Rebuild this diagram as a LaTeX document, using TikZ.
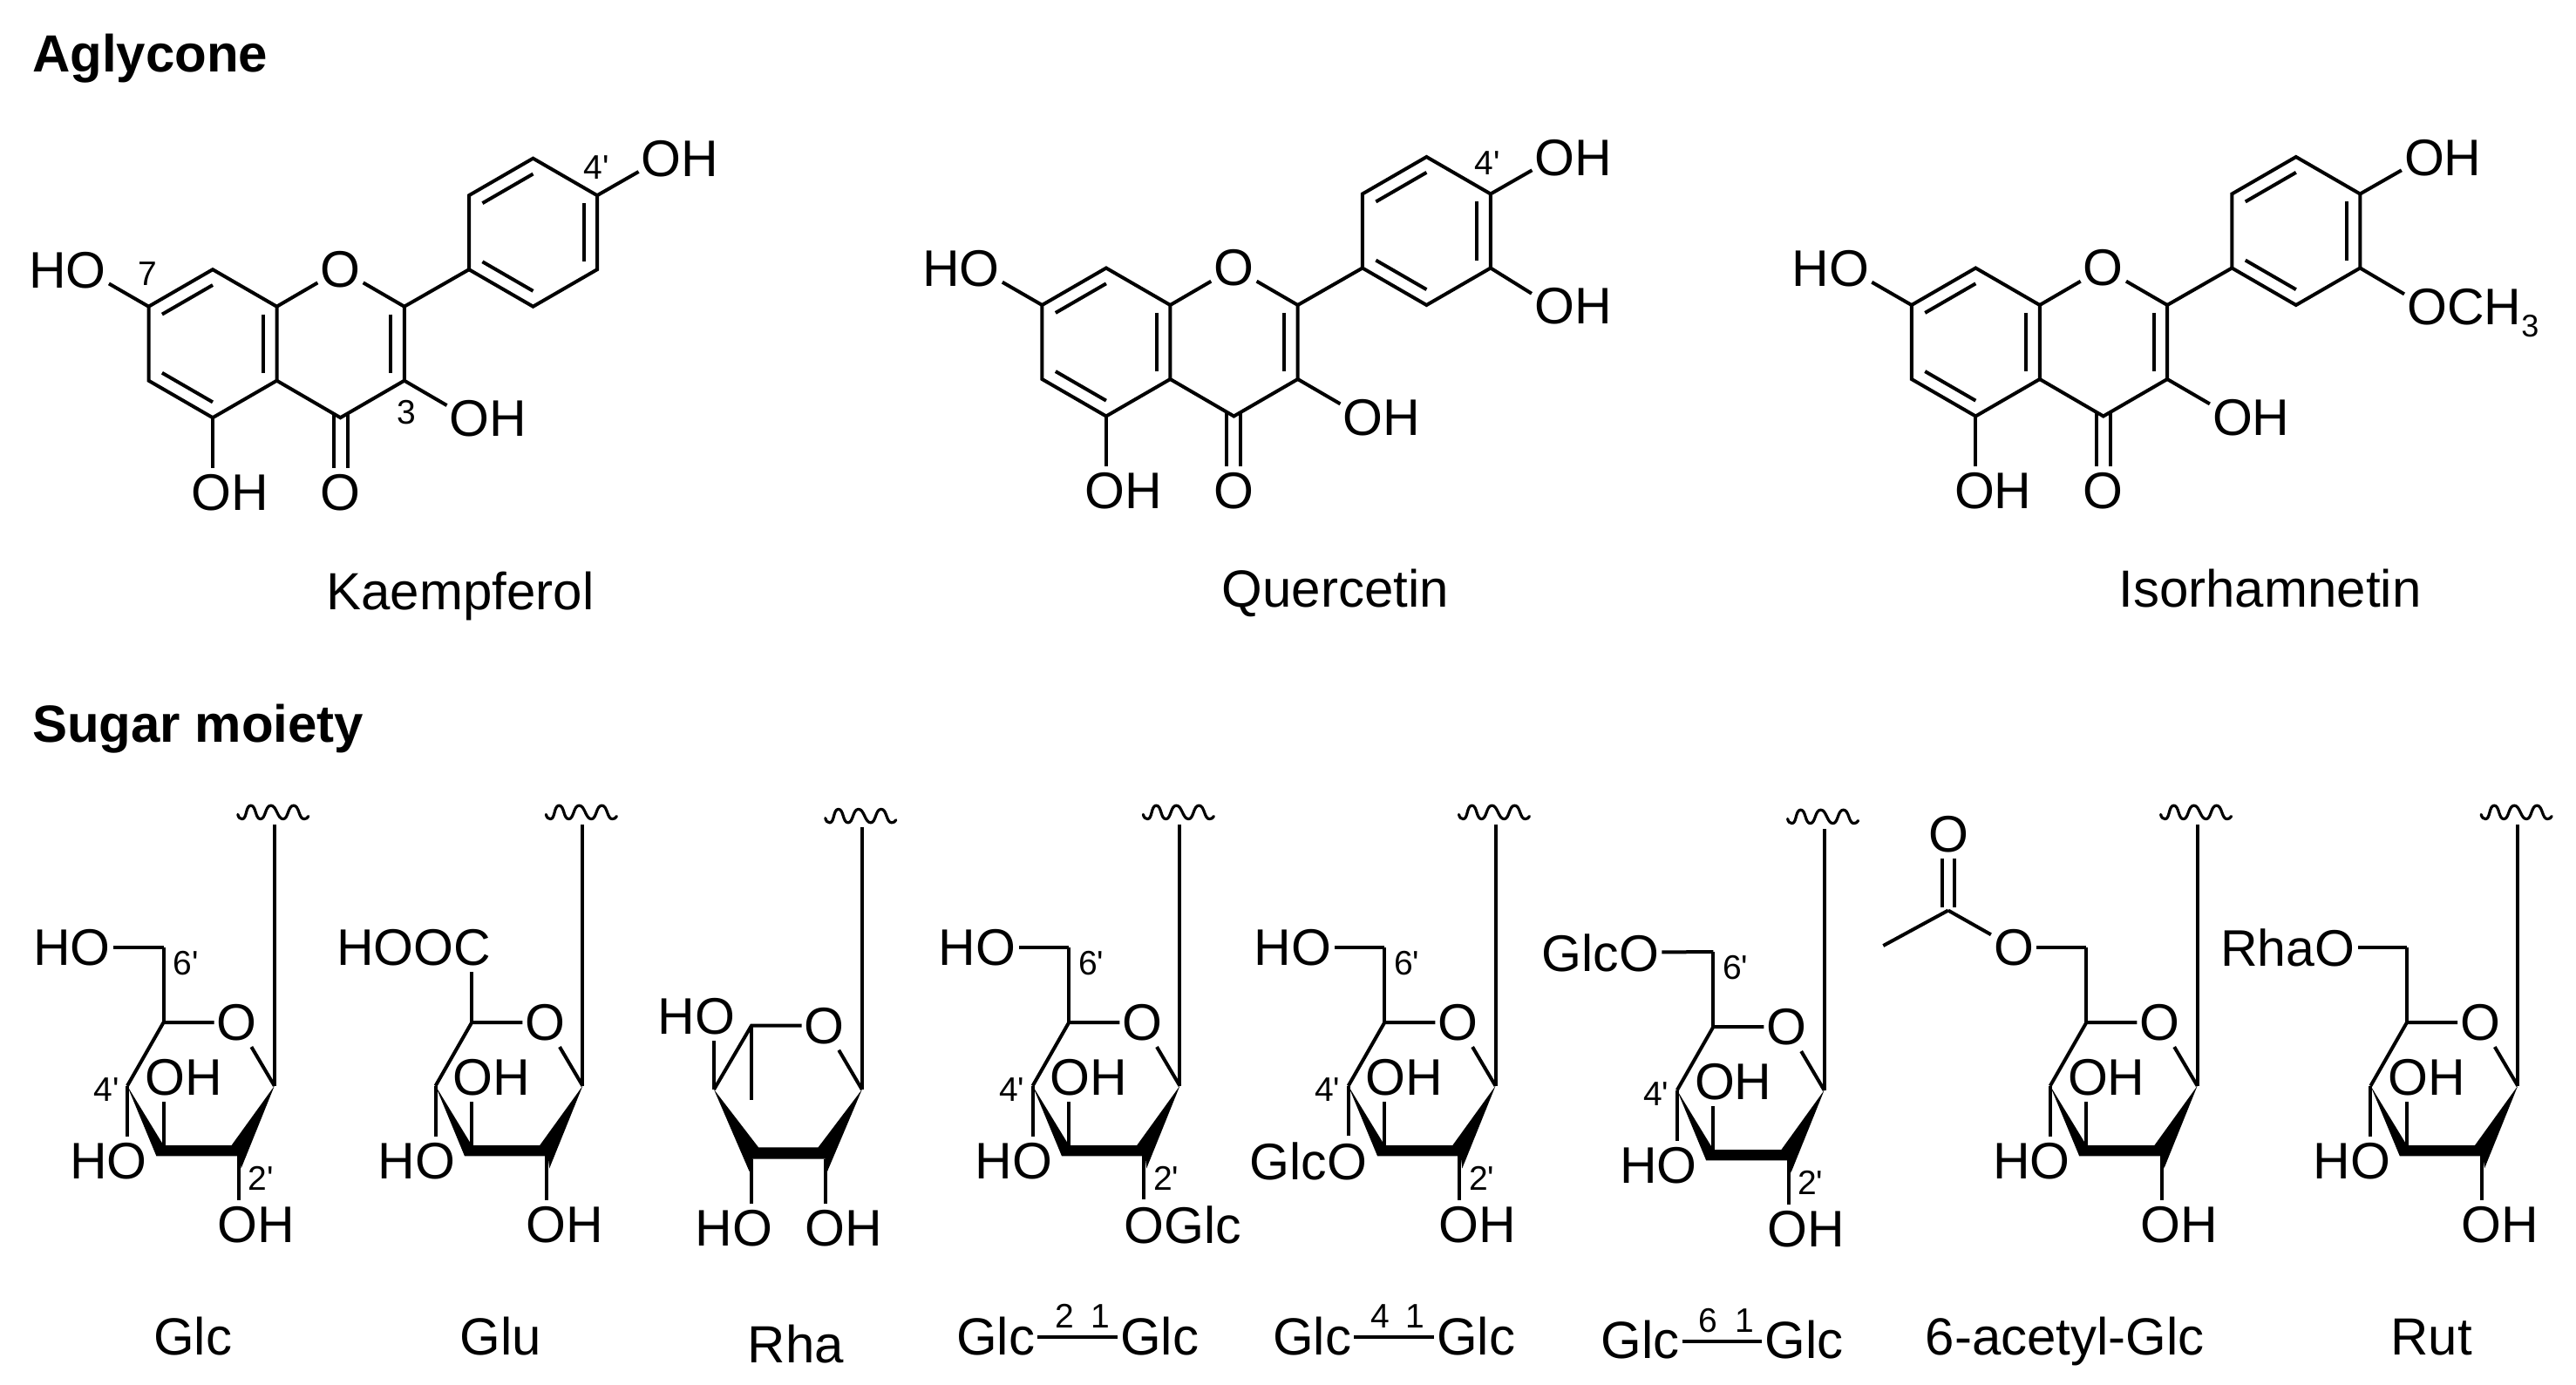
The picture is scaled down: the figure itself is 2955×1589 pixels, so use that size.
\documentclass[tikz,border=0pt]{standalone}
\usepackage{fontspec}
\setmainfont{Liberation Sans}
\usetikzlibrary{calc}
\newcommand\prm{\textquotesingle}
\tikzset{
  bond/.style={draw=black,line width=4pt,line join=miter,line cap=butt},
  atom/.style={font=\fontsize{59}{60}\selectfont,inner xsep=3pt,inner ysep=7pt,text=black},
  captext/.style={font=\fontsize{60}{62}\selectfont,inner sep=0pt,anchor=base,text=black},
  ttl/.style={font=\fontsize{60}{62}\selectfont\bfseries,inner sep=0pt,anchor=base west,text=black},
  num/.style={font=\fontsize{39}{40}\selectfont,inner sep=0pt,text=black},
  linktext/.style={font=\fontsize{60}{62}\selectfont,inner xsep=3pt,inner ysep=0pt,anchor=base,text=black},
  wavy/.style={draw=black,line width=3.2pt,line cap=round,line join=round},
  wedgefill/.style={fill=black,draw=none}
}
% the wavy bond mark, in the first Glc frame
\newcommand\wavemark{%
  \draw[wavy] (272.8,934.4) .. controls (273.5,938) and (275.5,939.6) .. (277.8,939.6)
    .. controls (283.5,939.6) and (281.5,924.2) .. (287.8,924.2)
    .. controls (294,924.2) and (292.5,939.6) .. (298.8,939.6)
    .. controls (305,939.6) and (304,924.2) .. (310.8,924.2)
    .. controls (317.5,924.2) and (318,939.6) .. (324.8,939.6)
    .. controls (331,939.6) and (330,924.2) .. (336.8,924.2)
    .. controls (343.5,924.2) and (342.5,939.6) .. (348.8,939.6)
    .. controls (351,939.6) and (353,938.5) .. (353.8,936.5);
}
% flavonol skeleton, in the Kaempferol frame
\newcommand\flavcore{%
  \coordinate (C7) at (170.5,351.7);
  \coordinate (C8) at (244,309.2);
  \coordinate (C8a) at (317.5,351.7);
  \node[atom] (O1) at (390.5,309.2) {O};
  \coordinate (C2) at (463.8,351.7);
  \coordinate (C3) at (463.8,436.7);
  \coordinate (C4) at (390.5,479.2);
  \coordinate (C4a) at (317.5,436.7);
  \coordinate (C5) at (244,479.2);
  \coordinate (C6) at (170.5,436.7);
  \coordinate (Ca) at (538,309.2);
  \coordinate (Cb) at (538,224.2);
  \coordinate (Cc) at (611.5,181.7);
  \coordinate (Cd) at (685,224.2);
  \coordinate (Ce) at (685,309.2);
  \coordinate (Cf) at (611.5,351.7);
  \coordinate (RA) at (244,394.2);
  \coordinate (RC) at (390.5,394.2);
  \coordinate (RB) at (611.5,266.7);
  \node[atom] (HO7) at (77.5,310) {HO};
  \node[atom] (OH5) at (264,565) {OH};
  \node[atom] (O4) at (390.5,565) {O};
  \node[atom] (OH3) at (560,480.5) {OH};
  \draw[bond] (C8a)--(C8)--(C7)--(C6)--(C5)--(C4a)--cycle;
  \draw[bond] (C8a)--(O1);
  \draw[bond] (O1)--(C2)--(C3)--(C4)--(C4a);
  \draw[bond] (C2)--(Ca);
  \draw[bond] (Ca)--(Cb)--(Cc)--(Cd)--(Ce)--(Cf)--cycle;
  \draw[bond] ($(C7)!0.21!(RA)$)--($(C8)!0.21!(RA)$);
  \draw[bond] ($(C8a)!0.21!(RA)$)--($(C4a)!0.21!(RA)$);
  \draw[bond] ($(C5)!0.21!(RA)$)--($(C6)!0.21!(RA)$);
  \draw[bond] ($(C2)!0.21!(RC)$)--($(C3)!0.21!(RC)$);
  \draw[bond] ($(Cb)!0.21!(RB)$)--($(Cc)!0.21!(RB)$);
  \draw[bond] ($(Cd)!0.21!(RB)$)--($(Ce)!0.21!(RB)$);
  \draw[bond] ($(Ca)!0.21!(RB)$)--($(Cf)!0.21!(RB)$);
  \draw[bond] (C7)--(HO7.-18);
  \draw[bond] (C5)--(C5 |- OH5.north);
  \draw[bond] (C3)--(OH3.162);
  \coordinate (COa) at ($(C4)+(-8,-4.6)$);
  \coordinate (COb) at ($(C4)+(8,-4.6)$);
  \draw[bond] (COa)--(COa |- O4.north);
  \draw[bond] (COb)--(COb |- O4.north);
  \node[atom] (OHd) at (780,182.5) {OH};
  \draw[bond] (Cd)--(OHd.197);
}
% shared half-chair pyranose, in the first Glc frame
\newcommand\pyrcore{%
  \coordinate (C1) at (314.8,1245.8);
  \coordinate (C2) at (273.7,1326);
  \coordinate (C3) at (187.6,1314);
  \coordinate (C4) at (146,1245.8);
  \coordinate (C5) at (187.6,1173);
  \coordinate (Top) at (314.8,946);
  \node[atom] (O5) at (271.8,1173) {O};
  \node[atom] (OH3) at (210.5,1236) {OH};
  \draw[bond] (C4)--(C5)--(O5);
  \draw[bond] (O5)--(C1);
  \draw[bond] (C1)--(Top);
  \fill[wedgefill] (C4)--(C3)--(265.6,1314)--(C1)--(276.6,1340.5)--(275,1326.4)--(179.4,1326.4)--cycle;
  \draw[bond] (C3)--(C3 |- OH3.south);
  \wavemark
}
\newcommand\stdsix{%
  \coordinate (C6) at (187.6,1087);
  \draw[bond] (C5)--(C6);
}
\newcommand\stdfour{%
  \node[atom] (HO4) at (124.5,1332) {HO};
  \draw[bond] (C4)--(C4 |- HO4.north);
}
\newcommand\stdtwo{%
  \node[atom] (OH2) at (294,1405) {OH};
  \draw[bond] (C2)--(C2 |- OH2.north);
}
\newcommand\hoSix{%
  \node[atom] (HO6) at (82.5,1087) {HO};
  \draw[bond] (C6)--(HO6);
}
\newcommand\numsGlc{%
  \node[num] (n6) at (213,1105) {6\prm};
  \node[num] (n4) at (122,1250) {4\prm};
  \node[num] (n2) at (299,1351.5) {2\prm};
}
% "Glc 2 1 Glc" caption
\newcommand\linkcap[8]{% prefix, xL, xR, baseline, a, xa, b, xb
  \node[linktext] (#1L) at (#2,#4) {Glc};
  \node[linktext] (#1R) at (#3,#4) {Glc};
  \draw[bond] ($(#1L.east)+(0,1.5)$)--($(#1R.west)+(0,1.5)$);
  \node[num] (#1a) at (#6,#4-44) {#5};
  \node[num] (#1b) at (#8,#4-44) {#7};
}
\begin{document}
\begin{tikzpicture}[x=1pt,y=-1pt]
\useasboundingbox (0,0) rectangle (2955,1589);
\fill[white] (0,0) rectangle (2955,1589);

\node[ttl] (tA) at (37,82.5) {Aglycone};
\node[ttl] (tS) at (37,851.5) {Sugar moiety};

% Kaempferol
\begin{scope}[name prefix=k-]
  \flavcore
  \node[num] (n7) at (169,314) {7};
  \node[num] (n3) at (466,473) {3};
  \node[num] (n4) at (684,192) {4\prm};
\end{scope}
\node[captext] (capK) at (528,699) {Kaempferol};

% Quercetin
\begin{scope}[shift={(1024.9,-1.7)},name prefix=q-]
  \flavcore
  \node[num] (n4) at (681,189) {4\prm};
  \node[atom] (OHe) at (779.5,353) {OH};
  \draw[bond] (Ce)--(OHe.163);
\end{scope}
\node[captext] (capQ) at (1532,696) {Quercetin};

% Isorhamnetin
\begin{scope}[shift={(2022.3,-1.7)},name prefix=i-]
  \flavcore
  \node[atom,anchor=base west] (OMe) at (735.7,374.5) {OCH\raisebox{-14pt}{\fontsize{36}{38}\selectfont 3}};
  \draw[bond] (Ce)--([yshift=-13pt]OMe.north west);
\end{scope}
\node[captext] (capI) at (2604,696) {Isorhamnetin};

% Glc
\begin{scope}[name prefix=a-]
  \pyrcore\stdsix\stdfour\stdtwo\hoSix\numsGlc
\end{scope}
\node[captext] (capGlc) at (221,1554) {Glc};

% Glu
\begin{scope}[shift={(353.6,0)},name prefix=b-]
  \pyrcore\stdfour\stdtwo
  \node[atom] (COOH) at (120.9,1087) {HOOC};
  \draw[bond] (C5)--(C5 |- COOH.south);
\end{scope}
\node[captext] (capGlu) at (574,1554) {Glu};

% Rha
\begin{scope}[name prefix=r-]
  \coordinate (C1) at (988.8,1250);
  \coordinate (C2) at (946.7,1330);
  \coordinate (C3) at (862,1330);
  \coordinate (C4) at (819,1250);
  \coordinate (C5) at (862,1176.7);
  \coordinate (Me) at (862,1262);
  \coordinate (Top) at (988.8,949);
  \node[atom] (O5) at (945.7,1176.7) {O};
  \node[atom] (HO4) at (799,1166) {HO};
  \node[atom] (HO3) at (842,1409.5) {HO};
  \node[atom] (OH2) at (968,1409.5) {OH};
  \draw[bond] (C4)--(C5)--(O5);
  \draw[bond] (O5)--(C1);
  \draw[bond] (C1)--(Top);
  \draw[bond] (C5)--(Me);
  \draw[bond] (C4)--(C4 |- HO4.south);
  \fill[wedgefill] (C4)--(870,1316.3)--(938.6,1316.3)--(C1)--(949,1344)--(946.7,1329.5)--(863.4,1329.5)--(859.6,1344)--cycle;
  \draw[bond] (C3)--(C3 |- HO3.north);
  \draw[bond] (C2)--(C2 |- OH2.north);
  \begin{scope}[shift={(674,4.2)}]\wavemark\end{scope}
\end{scope}
\node[captext] (capRha) at (913,1563) {Rha};

% Glc 2-1 Glc
\begin{scope}[shift={(1038.6,0)},name prefix=c-]
  \pyrcore\stdsix\stdfour\hoSix\numsGlc
  \node[atom] (OGlc) at (317.9,1405) {OGlc};
  \draw[bond] (C2)--(C2 |- OGlc.north);
\end{scope}
\linkcap{c}{1142}{1330}{1554}{2}{1221}{1}{1262.5}

% Glc 4-1 Glc
\begin{scope}[shift={(1400.7,0)},name prefix=d-]
  \pyrcore\stdsix\stdtwo\hoSix\numsGlc
  \node[atom] (GlcO) at (100.3,1332) {GlcO};
  \draw[bond] (C4)--(C4 |- GlcO.north);
\end{scope}
\linkcap{d}{1505}{1693}{1554}{4}{1583}{1}{1623}

% Glc 6-1 Glc
\begin{scope}[shift={(1777.8,5)},name prefix=e-]
  \pyrcore\stdsix\stdfour\stdtwo\numsGlc
  \node[atom] (GlcO) at (58.2,1088) {GlcO};
  \draw[bond] (C6)--(GlcO);
\end{scope}
\linkcap{e}{1881.5}{2069.5}{1558.6}{6}{1959.6}{1}{2001.7}

% 6-acetyl-Glc
\begin{scope}[shift={(2205.8,0)},name prefix=f-]
  \pyrcore\stdsix\stdfour\stdtwo
  \node[atom] (Oe) at (104.2,1087) {O};
  \draw[bond] (C6)--(Oe);
  \coordinate (AcC) at (29,1044.5);
  \coordinate (Me) at (-45.5,1085);
  \node[atom] (Oc) at (29.9,957.3) {O};
  \draw[bond] (Me)--(AcC);
  \draw[bond] (AcC)--(Oe);
  \coordinate (CCa) at ($(AcC)+(-7.2,-4)$);
  \coordinate (CCb) at ($(AcC)+(7.2,-4)$);
  \draw[bond] (CCa)--(CCa |- Oc.south);
  \draw[bond] (CCb)--(CCb |- Oc.south);
\end{scope}
\node[captext] (capAc) at (2368.7,1554) {6-acetyl-Glc};

% Rut
\begin{scope}[shift={(2573.4,0)},name prefix=g-]
  \pyrcore\stdsix\stdfour\stdtwo
  \node[atom] (RhaO) at (50.9,1087) {RhaO};
  \draw[bond] (C6)--(RhaO);
\end{scope}
\node[captext] (capRut) at (2789,1554) {Rut};
\end{tikzpicture}
\end{document}
